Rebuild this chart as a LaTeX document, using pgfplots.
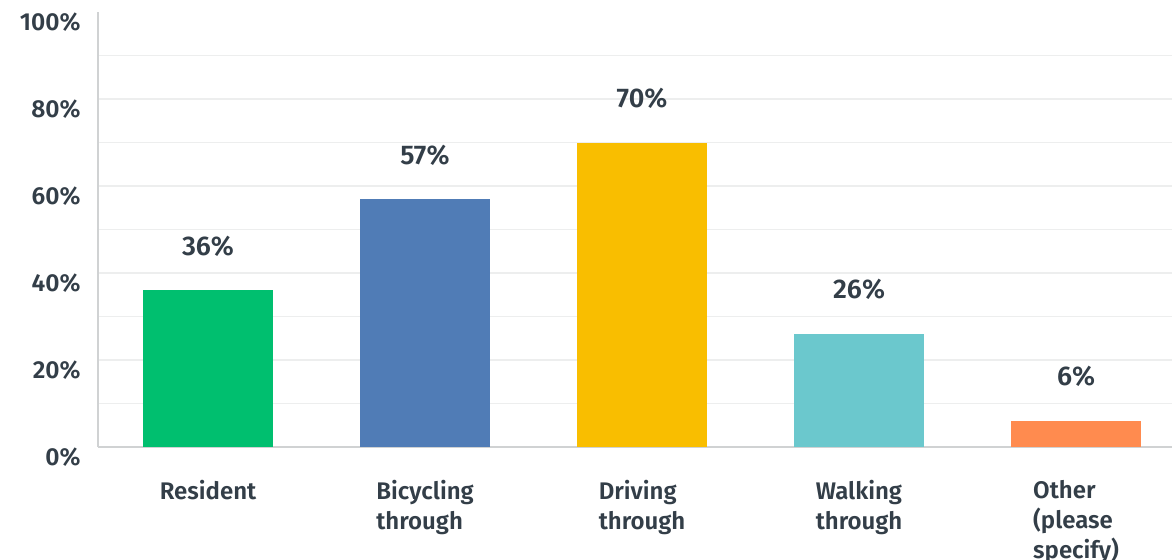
\documentclass[border=0pt]{standalone}
\usepackage{pgfplots}
\pgfplotsset{compat=1.18}
\usepackage{fontspec}
\setmainfont{Fira Sans SemiBold}
\definecolor{txt}{HTML}{333E48}
\definecolor{gridc}{HTML}{EDEEEE}
\definecolor{axisc}{HTML}{D0D2D3}
\definecolor{cgreen}{HTML}{00BF6F}
\definecolor{cblue}{HTML}{507CB6}
\definecolor{cyellow}{HTML}{F9BE00}
\definecolor{cteal}{HTML}{6BC8CD}
\definecolor{corange}{HTML}{FF8B4F}
\begin{document}
\begin{tikzpicture}
\path[use as bounding box, clip] (0,0) rectangle (586pt,279.5pt);
\begin{axis}[
  at={(49pt,56pt)}, anchor=south west,
  scale only axis, width=537pt, height=217.5pt,
  xmin=-0.507, xmax=4.442, ymin=0, ymax=100,
  axis x line*=bottom, axis y line*=left,
  axis line style={draw=axisc, line width=0.8pt, -},
  ybar, bar width=65pt, bar shift=0pt,
  ytick={0,10,...,90},
  yticklabels={0\%,,20\%,,40\%,,60\%,,80\%,},
  extra y ticks={100}, extra y tick labels={100\%},
  extra y tick style={grid=none},
  ymajorgrids, grid style={draw=gridc, line width=0.75pt},
  major tick length=0pt,
  xtick={0,1,2,3,4},
  xticklabels={Resident, Bicycling\\through, Driving\\through, Walking\\through, Other\\(please\\specify)},
  xticklabel style={align=left, anchor=north, inner sep=0pt, yshift=-16.3pt, font=\fontsize{12}{15}\selectfont, text=txt},
  yticklabel style={anchor=east, inner sep=0pt, xshift=-8.5pt, yshift=-5pt, font=\fontsize{12.3}{14}\selectfont, text=txt},
  /pgf/number format/assume math mode=true,
  nodes near coords={\pgfmathprintnumber{\pgfplotspointmeta}\%},
  every node near coord/.append style={anchor=base, inner sep=0pt, yshift=17.5pt, font=\fontsize{13.5}{15}\selectfont, text=txt},
]
\addplot[fill=cgreen, draw=none] coordinates {(0,36)};
\addplot[fill=cblue, draw=none] coordinates {(1,57)};
\addplot[fill=cyellow, draw=none] coordinates {(2,70)};
\addplot[fill=cteal, draw=none] coordinates {(3,26)};
\addplot[fill=corange, draw=none] coordinates {(4,6)};
\end{axis}
\end{tikzpicture}
\end{document}
